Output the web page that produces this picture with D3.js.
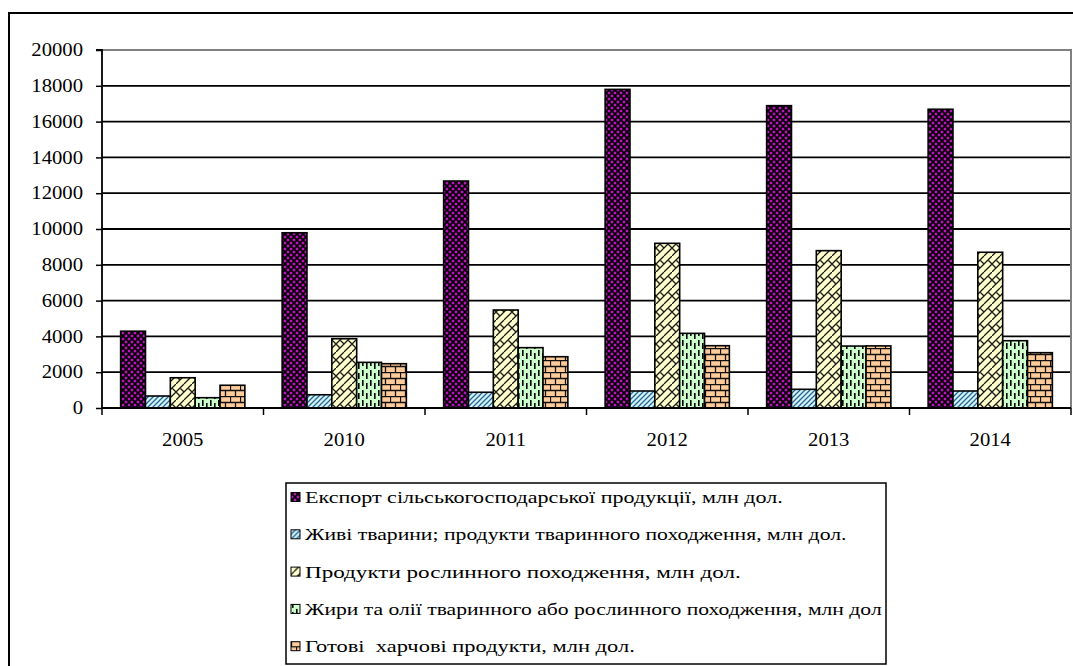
<!DOCTYPE html>
<html>
<head>
<meta charset="utf-8">
<title>Експорт сільськогосподарської продукції</title>
<style>
  body { margin: 0; background: #fff; }
  svg { display: block; }
</style>
<script src="https://cdn.jsdelivr.net/npm/d3@7/dist/d3.min.js"></script>
</head>
<body>
<script>
// роки
var years = ['2005', '2010', '2011', '2012', '2013', '2014'];

// ряди (назви з легенди)
var seriesNames = [
  'Експорт сільськогосподарської продукції, млн дол.',
  'Живі тварини; продукти тваринного походження, млн дол.',
  'Продукти рослинного походження, млн дол.',
  'Жири та олії тваринного або рослинного походження, млн дол',
  'Готові  харчові продукти, млн дол.'
];

// значення, млн дол.
var exportTotal = [4290, 9790, 12680, 17800, 16890, 16690];
var liveAnimals = [670, 740, 880, 950, 1045, 950];
var plantProducts = [1690, 3870, 5475, 9200, 8790, 8700];
var fatsOils = [575, 2550, 3370, 4170, 3460, 3760];
var foodProducts = [1270, 2475, 2865, 3480, 3470, 3090];

// підписи осі Y
var yTicks = [0, 2000, 4000, 6000, 8000, 10000, 12000, 14000, 16000, 18000, 20000];

var allValues = [exportTotal, liveAnimals, plantProducts, fatsOils, foodProducts];

var FONT = 'Liberation Serif';
var STRETCH = 1.15; // картинка в оригіналі розтягнута по горизонталі
var W = 1073, H = 666;
var plot = { left: 102, top: 50, right: 1071, bottom: 408 };

var svg = d3.select('body').append('svg')
  .attr('width', W).attr('height', H);

var defs = svg.append('defs');

// візерунки заливки
var p1 = defs.append('pattern').attr('id', 'pat0')
  .attr('patternUnits', 'userSpaceOnUse').attr('width', 6).attr('height', 6);
p1.append('rect').attr('width', 6).attr('height', 6).attr('fill', '#5c005e');
p1.append('path').attr('d', 'M0,3 L3,0 L6,3 L3,6 Z')
  .attr('fill', 'none').attr('stroke', '#000').attr('stroke-width', 1.2);
[[3, 3], [0, 0], [6, 0], [0, 6], [6, 6]].forEach(function (c) {
  p1.append('circle').attr('cx', c[0]).attr('cy', c[1]).attr('r', 0.9).attr('fill', '#e81ee8');
});

var p2 = defs.append('pattern').attr('id', 'pat1')
  .attr('patternUnits', 'userSpaceOnUse').attr('width', 5).attr('height', 5);
p2.append('rect').attr('width', 5).attr('height', 5).attr('fill', '#cdf6ff');
p2.append('path').attr('d', 'M-1,1 L1,-1 M0,5 L5,0 M4,6 L6,4')
  .attr('stroke', '#30628c').attr('stroke-width', 1.3);

var p3 = defs.append('pattern').attr('id', 'pat2')
  .attr('patternUnits', 'userSpaceOnUse').attr('width', 16).attr('height', 16);
p3.append('rect').attr('width', 16).attr('height', 16).attr('fill', '#ffffcc');
p3.append('path')
  .attr('d', 'M0,8 L8,0 M0,16 L16,0 M8,16 L16,8 M4,4 L8,8 M12,4 L16,8 M0,8 L4,12 M8,16 L12,12')
  .attr('fill', 'none').attr('stroke', '#1a1a1a').attr('stroke-width', 1.3);

var p4 = defs.append('pattern').attr('id', 'pat3')
  .attr('patternUnits', 'userSpaceOnUse').attr('width', 8).attr('height', 10);
p4.append('rect').attr('width', 8).attr('height', 10).attr('fill', '#ccffcc');
p4.append('rect').attr('x', 2).attr('y', 0).attr('width', 1.6).attr('height', 6).attr('fill', '#000');
p4.append('rect').attr('x', 6).attr('y', 3).attr('width', 1.6).attr('height', 6).attr('fill', '#000');

var p5 = defs.append('pattern').attr('id', 'pat4')
  .attr('patternUnits', 'userSpaceOnUse').attr('width', 10).attr('height', 12);
p5.append('rect').attr('width', 10).attr('height', 12).attr('fill', '#ffcc99');
p5.append('path').attr('d', 'M0,0.5 H10 M0,6.5 H10 M0.5,0 V6.5 M5.5,6.5 V12')
  .attr('stroke', '#111').attr('stroke-width', 1.3);

// зовнішня рамка
svg.append('rect')
  .attr('x', 9).attr('y', 13).attr('width', 1100).attr('height', 700)
  .attr('fill', 'none').attr('stroke', '#000').attr('stroke-width', 2);

var x = d3.scaleBand().domain(years).range([plot.left, plot.right]);
var xInner = d3.scaleBand().domain(d3.range(seriesNames.length))
  .range([0, x.bandwidth()]).paddingInner(0).paddingOuter(0.75);
var y = d3.scaleLinear().domain([0, 20000]).range([plot.bottom, plot.top]);

// сітка
svg.append('g').selectAll('line')
  .data(yTicks.filter(d => d > 0 && d < 20000))
  .enter().append('line')
  .attr('x1', plot.left).attr('x2', plot.right)
  .attr('y1', d => y(d)).attr('y2', d => y(d))
  .attr('stroke', '#000').attr('stroke-width', 1.8);

// межа області побудови
svg.append('path')
  .attr('d', `M${plot.left},${y(20000)} H${plot.right} V${plot.bottom}`)
  .attr('fill', 'none').attr('stroke', '#808080').attr('stroke-width', 2);

// стовпці
var groups = svg.append('g').selectAll('g')
  .data(allValues).enter().append('g')
  .attr('fill', (d, i) => `url(#pat${i})`);

groups.each(function (vals, si) {
  d3.select(this).selectAll('rect')
    .data(vals).enter().append('rect')
    .attr('x', (d, i) => x(years[i]) + xInner(si))
    .attr('width', xInner.bandwidth())
    .attr('y', d => y(d))
    .attr('height', d => y(0) - y(d))
    .attr('stroke', '#000').attr('stroke-width', 1.6);
});

// вісь Y
var yAxis = d3.axisLeft(y).tickValues(yTicks).tickSize(6).tickPadding(0)
  .tickFormat(d3.format('d'));
var gy = svg.append('g').attr('transform', `translate(${plot.left},0)`).call(yAxis);
gy.select('.domain').attr('stroke', '#000').attr('stroke-width', 1.8)
  .attr('d', `M-6,${y(20000)}H0V${plot.bottom}`);
gy.selectAll('.tick line').attr('stroke', '#000').attr('stroke-width', 1.5);
gy.selectAll('.tick text')
  .attr('x', -19 / STRETCH)
  .attr('transform', `scale(${STRETCH},1)`)
  .attr('font-family', FONT).attr('font-size', 18)
  .attr('fill', '#000');

// вісь X
var gx = svg.append('g').attr('transform', `translate(0,${plot.bottom})`);
gx.append('line').attr('x1', plot.left).attr('x2', plot.right)
  .attr('stroke', '#000').attr('stroke-width', 1.8);
gx.selectAll('.bt').data(years.concat(['end'])).enter().append('line')
  .attr('class', 'bt')
  .attr('x1', d => d === 'end' ? plot.right : x(d))
  .attr('x2', d => d === 'end' ? plot.right : x(d))
  .attr('y1', 0).attr('y2', 7)
  .attr('stroke', '#000').attr('stroke-width', 1.5);
gx.selectAll('.lbl').data(years).enter().append('text')
  .attr('class', 'lbl')
  .attr('transform', d => `translate(${x(d) + x.bandwidth() / 2},38) scale(${STRETCH},1)`)
  .attr('text-anchor', 'middle')
  .attr('font-family', FONT).attr('font-size', 18)
  .text(d => d);

// легенда
var legend = svg.append('g').attr('transform', 'translate(286,483)');
legend.append('rect').attr('width', 600).attr('height', 181)
  .attr('fill', '#fff').attr('stroke', '#000').attr('stroke-width', 1.5);

var legendTextWidth = [478, 542, 436, 577, 330];

var rows = legend.selectAll('.row').data(seriesNames).enter().append('g')
  .attr('class', 'row')
  .attr('transform', (d, i) => `translate(0,${14 + i * 37.3})`);
rows.append('rect')
  .attr('x', 5).attr('y', -4.5).attr('width', 9).attr('height', 9)
  .attr('fill', (d, i) => `url(#pat${i})`)
  .attr('stroke', '#000').attr('stroke-width', 1);
rows.append('text')
  .attr('font-family', FONT).attr('font-size', 16.5)
  .attr('xml:space', 'preserve')
  .text(d => d)
  .attr('transform', function (d, i) {
    var s = legendTextWidth[i] / this.getComputedTextLength();
    return `translate(19,6) scale(${s},1)`;
  });
</script>
</body>
</html>
